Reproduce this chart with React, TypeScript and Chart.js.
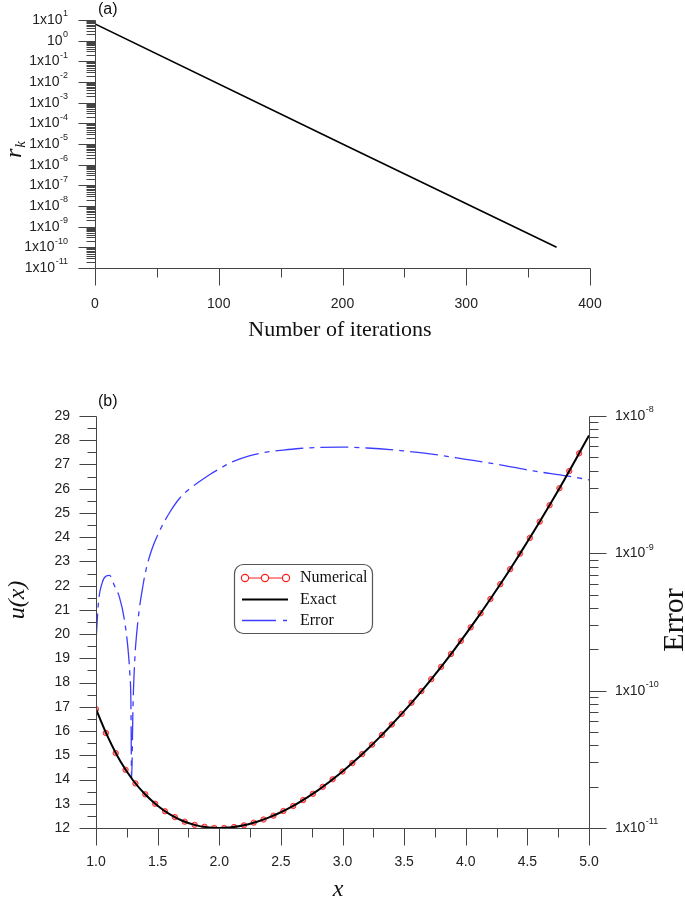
import React, { useEffect, useRef } from 'react';
import { Chart, registerables } from 'chart.js';
Chart.register(...registerables);

// ---------- Data: panel (a) ----------
const iterX = [0, 200, 373];
const iterR = [6.5, 1e-5, 1e-10];
const topXMajor = [0, 100, 200, 300, 400];
const topXMinor = [50, 150, 250, 350];
const topYExp = [-11, -10, -9, -8, -7, -6, -5, -4, -3, -2, -1, 0, 1];

// ---------- Data: panel (b) ----------
const numX = [1.00, 1.08, 1.16, 1.24, 1.32, 1.40, 1.48, 1.56, 1.64, 1.72, 1.80, 1.88, 1.96, 2.04, 2.12, 2.20, 2.28, 2.36, 2.44, 2.52, 2.60, 2.68, 2.76, 2.84, 2.92, 3.00, 3.08, 3.16, 3.24, 3.32, 3.40, 3.48, 3.56, 3.64, 3.72, 3.80, 3.88, 3.96, 4.04, 4.12, 4.20, 4.28, 4.36, 4.44, 4.52, 4.60, 4.68, 4.76, 4.84, 4.92];
const numU = [16.90, 15.92, 15.09, 14.40, 13.84, 13.39, 13.00, 12.69, 12.45, 12.26, 12.13, 12.05, 12.00, 12.00, 12.04, 12.11, 12.22, 12.35, 12.51, 12.70, 12.91, 13.15, 13.41, 13.70, 14.01, 14.33, 14.68, 15.05, 15.44, 15.84, 16.27, 16.71, 17.17, 17.65, 18.14, 18.65, 19.18, 19.72, 20.28, 20.86, 21.45, 22.06, 22.68, 23.32, 23.97, 24.64, 25.32, 26.02, 26.73, 27.46];
const exactX = [1.0, 1.1, 1.2, 1.3, 1.4, 1.5, 1.6, 1.7, 1.8, 1.9, 2.0, 2.1, 2.2, 2.3, 2.4, 2.5, 2.6, 2.7, 2.8, 2.9, 3.0, 3.1, 3.2, 3.3, 3.4, 3.5, 3.6, 3.7, 3.8, 3.9, 4.0, 4.1, 4.2, 4.3, 4.4, 4.5, 4.6, 4.7, 4.8, 4.9, 5.0];
const exactU = [16.90, 15.72, 14.73, 13.97, 13.38, 12.92, 12.56, 12.30, 12.13, 12.03, 12.00, 12.03, 12.11, 12.25, 12.43, 12.65, 12.91, 13.22, 13.55, 13.93, 14.33, 14.77, 15.24, 15.74, 16.27, 16.82, 17.40, 18.01, 18.65, 19.31, 20.00, 20.71, 21.45, 22.21, 23.00, 23.81, 24.64, 25.49, 26.37, 27.28, 28.20];
const errX = [1.00, 1.02, 1.05, 1.08, 1.11, 1.15, 1.19, 1.23, 1.26, 1.275, 1.283, 1.289, 1.30, 1.316, 1.33, 1.351, 1.375, 1.40, 1.45, 1.52, 1.60, 1.68, 1.76, 1.84, 1.93, 2.00, 2.11, 2.25, 2.38, 2.52, 2.65, 2.80, 2.98, 3.20, 3.47, 3.74, 4.00, 4.28, 4.55, 4.82, 5.00];
const errV = [2.27e-10, 4.4e-10, 6.1e-10, 6.8e-10, 6.9e-10, 5.8e-10, 4.8e-10, 3.3e-10, 2.0e-10, 1.3e-10, 8.5e-11, 2.3e-11, 7.6e-11, 1.77e-10, 2.6e-10, 3.9e-10, 5.4e-10, 7.2e-10, 1.05e-9, 1.48e-9, 2.0e-9, 2.53e-9, 2.95e-9, 3.33e-9, 3.78e-9, 4.12e-9, 4.65e-9, 5.15e-9, 5.45e-9, 5.65e-9, 5.8e-9, 5.9e-9, 5.94e-9, 5.85e-9, 5.6e-9, 5.26e-9, 4.84e-9, 4.41e-9, 3.98e-9, 3.66e-9, 3.43e-9];
const botXMajor = [1.0, 1.5, 2.0, 2.5, 3.0, 3.5, 4.0, 4.5, 5.0];
const botXMinor = [1.25, 1.75, 2.25, 2.75, 3.25, 3.75, 4.25, 4.75];
const botYMajor = [12, 13, 14, 15, 16, 17, 18, 19, 20, 21, 22, 23, 24, 25, 26, 27, 28, 29];
const botYMinor = [12.5, 13.5, 14.5, 15.5, 16.5, 17.5, 18.5, 19.5, 20.5, 21.5, 22.5, 23.5, 24.5, 25.5, 26.5, 27.5, 28.5];
const errExp = [-11, -10, -9, -8];
const legendLabels = ['Numerical', 'Exact', 'Error'];

const SANS = '"Liberation Sans", Arial, Helvetica, sans-serif';
const SERIF = '"Liberation Serif", "Times New Roman", Times, serif';
const AXIS = '#444';
const TEXT = '#222';
const RED = 'rgb(255,30,30)';
const BLUE = 'rgb(60,60,255)';
const DASH = [28, 6, 5, 6];

function seg(ctx: CanvasRenderingContext2D, x1: number, y1: number, x2: number, y2: number) {
  ctx.beginPath();
  ctx.moveTo(x1, y1);
  ctx.lineTo(x2, y2);
  ctx.stroke();
}
const snap = (v: number) => Math.round(v) + 0.5;

function drawPow(ctx: CanvasRenderingContext2D, x: number, y: number, exp: number, align: 'left' | 'right', withOne: boolean) {
  const base = withOne ? '1x10' : '10';
  const sup = String(exp);
  ctx.font = `14px ${SANS}`;
  const wb = ctx.measureText(base).width;
  ctx.font = `9px ${SANS}`;
  const ws = ctx.measureText(sup).width;
  const x0 = align === 'right' ? x - wb - ws - 0.5 : x;
  ctx.textAlign = 'left';
  ctx.textBaseline = 'middle';
  ctx.fillStyle = TEXT;
  ctx.font = `14px ${SANS}`;
  ctx.fillText(base, x0, y);
  ctx.font = `9px ${SANS}`;
  ctx.fillText(sup, x0 + wb + 0.5, y - 6);
}

const topAxes = {
  id: 'topAxes',
  afterDraw(chart: any) {
    const { ctx, chartArea: a, scales } = chart;
    const xs = scales.x, ys = scales.y;
    ctx.save();
    ctx.strokeStyle = AXIS;
    ctx.lineWidth = 1;
    const L = snap(a.left), B = snap(a.bottom);
    seg(ctx, L, snap(a.top), L, B);
    seg(ctx, L, B, snap(a.right), B);
    for (let i = 0; i < topYExp.length; i++) {
      const e = topYExp[i];
      const py = snap(ys.getPixelForValue(Math.pow(10, e)));
      seg(ctx, L - 17, py, L, py);
      if (i < topYExp.length - 1) {
        for (let k = 2; k <= 9; k++) {
          const pm = snap(ys.getPixelForValue(k * Math.pow(10, e)));
          seg(ctx, L - 9, pm, L, pm);
        }
      }
      drawPow(ctx, 68, ys.getPixelForValue(Math.pow(10, e)), e, 'right', e !== 0);
    }
    ctx.font = `14px ${SANS}`;
    ctx.fillStyle = TEXT;
    ctx.textAlign = 'center';
    ctx.textBaseline = 'middle';
    for (const v of topXMajor) {
      const px = snap(xs.getPixelForValue(v));
      seg(ctx, px, B, px, B + 17);
      ctx.fillText(String(v), xs.getPixelForValue(v), 304);
    }
    for (const v of topXMinor) {
      const px = snap(xs.getPixelForValue(v));
      seg(ctx, px, B, px, B + 9);
    }
    ctx.fillStyle = '#111';
    ctx.font = `22px ${SERIF}`;
    ctx.fillText('Number of iterations', 340, 330);
    ctx.font = `16px ${SANS}`;
    ctx.textAlign = 'left';
    ctx.fillText('(a)', 98, 10);
    ctx.save();
    ctx.translate(21, 158);
    ctx.rotate(-Math.PI / 2);
    ctx.textBaseline = 'alphabetic';
    ctx.font = `italic 24px ${SERIF}`;
    ctx.fillText('r', 0, 0);
    const wr = ctx.measureText('r').width;
    ctx.font = `italic 15px ${SERIF}`;
    ctx.fillText('k', wr + 1, 4);
    ctx.restore();
    ctx.restore();
  },
};

const botAxes = {
  id: 'botAxes',
  afterDraw(chart: any) {
    const { ctx, chartArea: a, scales } = chart;
    const xs = scales.x, ys = scales.y, y2 = scales.y2;
    ctx.save();
    ctx.strokeStyle = AXIS;
    ctx.lineWidth = 1;
    const L = snap(a.left), R = snap(a.right), B = snap(a.bottom), T = snap(a.top);
    seg(ctx, L, T, L, B);
    seg(ctx, R, T, R, B);
    seg(ctx, L, B, R, B);
    ctx.font = `14px ${SANS}`;
    ctx.fillStyle = TEXT;
    ctx.textAlign = 'right';
    ctx.textBaseline = 'middle';
    for (const v of botYMajor) {
      const py = snap(ys.getPixelForValue(v));
      seg(ctx, L - 17, py, L, py);
      ctx.fillText(String(v), 70, ys.getPixelForValue(v));
    }
    for (const v of botYMinor) {
      const py = snap(ys.getPixelForValue(v));
      seg(ctx, L - 9, py, L, py);
    }
    for (let i = 0; i < errExp.length; i++) {
      const e = errExp[i];
      const py = snap(y2.getPixelForValue(Math.pow(10, e)));
      seg(ctx, R, py, R + 17, py);
      if (i < errExp.length - 1) {
        for (let k = 2; k <= 9; k++) {
          const pm = snap(y2.getPixelForValue(k * Math.pow(10, e)));
          seg(ctx, R, pm, R + 9, pm);
        }
      }
      drawPow(ctx, 615, y2.getPixelForValue(Math.pow(10, e)), e, 'left', true);
    }
    ctx.font = `14px ${SANS}`;
    ctx.fillStyle = TEXT;
    ctx.textAlign = 'center';
    ctx.textBaseline = 'middle';
    for (const v of botXMajor) {
      const px = snap(xs.getPixelForValue(v));
      seg(ctx, px, B, px, B + 17);
      ctx.fillText(v.toFixed(1), xs.getPixelForValue(v), 522);
    }
    for (const v of botXMinor) {
      const px = snap(xs.getPixelForValue(v));
      seg(ctx, px, B, px, B + 9);
    }
    ctx.fillStyle = '#111';
    ctx.font = `italic 24px ${SERIF}`;
    ctx.fillText('x', 338, 550);
    ctx.font = `16px ${SANS}`;
    ctx.textAlign = 'left';
    ctx.fillText('(b)', 98, 62);
    ctx.save();
    ctx.translate(24, 260);
    ctx.rotate(-Math.PI / 2);
    ctx.textAlign = 'center';
    ctx.textBaseline = 'alphabetic';
    ctx.font = `italic 24px ${SERIF}`;
    ctx.fillText('u(x)', 0, 0);
    ctx.restore();
    ctx.save();
    ctx.translate(683, 280);
    ctx.rotate(-Math.PI / 2);
    ctx.textAlign = 'center';
    ctx.textBaseline = 'alphabetic';
    ctx.font = `30px ${SERIF}`;
    ctx.fillText('Error', 0, 0);
    ctx.restore();
    // legend
    ctx.strokeStyle = '#555';
    ctx.lineWidth = 1.2;
    ctx.beginPath();
    (ctx as any).roundRect(234.5, 224.5, 138, 69, 9);
    ctx.stroke();
    const ly = [238, 259.5, 280.5];
    ctx.strokeStyle = RED;
    ctx.lineWidth = 1.2;
    seg(ctx, 242, ly[0], 288, ly[0]);
    for (const cx of [245, 265, 286]) {
      ctx.beginPath();
      ctx.arc(cx, ly[0], 3.6, 0, Math.PI * 2);
      ctx.fillStyle = '#fff';
      ctx.fill();
      ctx.stroke();
    }
    ctx.strokeStyle = '#000';
    ctx.lineWidth = 2;
    seg(ctx, 242, ly[1], 288, ly[1]);
    ctx.strokeStyle = BLUE;
    ctx.lineWidth = 1.4;
    ctx.setLineDash([34, 7, 4, 7]);
    seg(ctx, 242, ly[2], 288, ly[2]);
    ctx.setLineDash([]);
    ctx.fillStyle = '#111';
    ctx.font = `16px ${SERIF}`;
    ctx.textAlign = 'left';
    ctx.textBaseline = 'middle';
    legendLabels.forEach((t, i) => ctx.fillText(t, 300, ly[i]));
    ctx.restore();
  },
};

export default function App() {
  const topRef = useRef<HTMLCanvasElement>(null);
  const botRef = useRef<HTMLCanvasElement>(null);

  useEffect(() => {
    const c1 = new Chart(topRef.current as HTMLCanvasElement, {
      type: 'line',
      data: {
        datasets: [
          {
            data: iterX.map((x, i) => ({ x, y: iterR[i] })),
            borderColor: '#000',
            borderWidth: 1.6,
            pointRadius: 0,
            tension: 0,
          },
        ],
      },
      options: {
        responsive: false,
        animation: false,
        events: [],
        layout: { padding: { left: 95, right: 95, top: 20, bottom: 72 }, autoPadding: false },
        plugins: { legend: { display: false }, tooltip: { enabled: false } },
        scales: {
          x: { type: 'linear', min: 0, max: 400, display: false },
          y: { type: 'logarithmic', min: 1e-11, max: 10, display: false },
        },
      },
      plugins: [topAxes],
    } as any);

    const c2 = new Chart(botRef.current as HTMLCanvasElement, {
      type: 'line',
      data: {
        datasets: [
          {
            label: 'Exact',
            order: 0,
            data: exactX.map((x, i) => ({ x, y: exactU[i] })),
            borderColor: '#000',
            borderWidth: 2,
            pointRadius: 0,
            tension: 0.4,
            yAxisID: 'y',
          },
          {
            label: 'Numerical',
            order: 1,
            data: numX.map((x, i) => ({ x, y: numU[i] })),
            showLine: false,
            borderColor: RED,
            backgroundColor: 'rgba(255,90,90,0.6)',
            pointBackgroundColor: 'rgba(255,90,90,0.6)',
            pointBorderColor: 'rgba(255,30,30,0.9)',
            pointBorderWidth: 1,
            pointRadius: 2.7,
            yAxisID: 'y',
          },
          {
            label: 'Error',
            order: 2,
            data: errX.map((x, i) => ({ x, y: errV[i] })),
            borderColor: BLUE,
            borderWidth: 1.3,
            borderDash: DASH,
            pointRadius: 0,
            cubicInterpolationMode: 'monotone',
            yAxisID: 'y2',
          },
        ],
      },
      options: {
        responsive: false,
        animation: false,
        events: [],
        layout: { padding: { left: 96, right: 96, top: 76, bottom: 72 }, autoPadding: false },
        plugins: { legend: { display: false }, tooltip: { enabled: false } },
        scales: {
          x: { type: 'linear', min: 1, max: 5, display: false },
          y: { type: 'linear', min: 12, max: 29, display: false },
          y2: { type: 'logarithmic', min: 1e-11, max: 1e-8, display: false, position: 'right' },
        },
      },
      plugins: [botAxes],
    } as any);

    return () => {
      c1.destroy();
      c2.destroy();
    };
  }, []);

  return (
    <div style={{ position: 'absolute', left: 0, top: 0, width: 685, height: 900, background: '#fff' }}>
      <canvas ref={topRef} width={685} height={340} style={{ position: 'absolute', left: 0, top: 0 }} />
      <canvas ref={botRef} width={685} height={560} style={{ position: 'absolute', left: 0, top: 340 }} />
    </div>
  );
}
